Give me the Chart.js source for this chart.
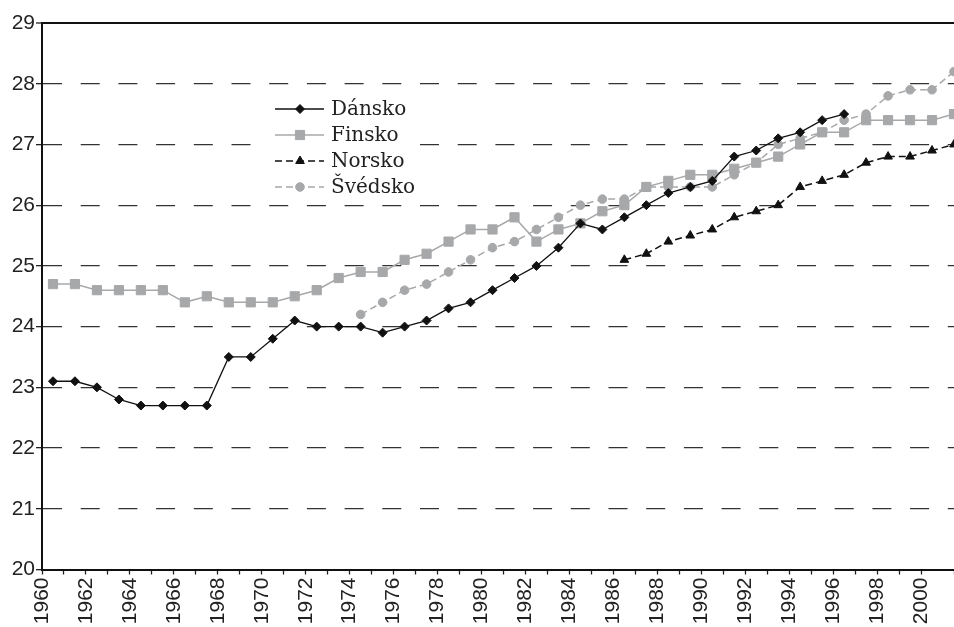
<!DOCTYPE html>
<html>
<head>
<meta charset="utf-8">
<script src="https://cdn.jsdelivr.net/npm/chart.js@4.4.1/dist/chart.umd.min.js"></script>
<style>
  html, body { margin: 0; padding: 0; background: #fff; }
</style>
</head>
<body>
<canvas id="chart" width="954" height="627"></canvas>
<script>
const years = [];
for (let y = 1960; y <= 2001; y++) years.push(y);

const dansko = [23.1, 23.1, 23.0, 22.8, 22.7, 22.7, 22.7, 22.7, 23.5, 23.5,
  23.8, 24.1, 24.0, 24.0, 24.0, 23.9, 24.0, 24.1, 24.3, 24.4,
  24.6, 24.8, 25.0, 25.3, 25.7, 25.6, 25.8, 26.0, 26.2, 26.3,
  26.4, 26.8, 26.9, 27.1, 27.2, 27.4, 27.5, null, null, null,
  null, null];
const finsko = [24.7, 24.7, 24.6, 24.6, 24.6, 24.6, 24.4, 24.5, 24.4, 24.4,
  24.4, 24.5, 24.6, 24.8, 24.9, 24.9, 25.1, 25.2, 25.4, 25.6,
  25.6, 25.8, 25.4, 25.6, 25.7, 25.9, 26.0, 26.3, 26.4, 26.5,
  26.5, 26.6, 26.7, 26.8, 27.0, 27.2, 27.2, 27.4, 27.4, 27.4,
  27.4, 27.5];
const norsko = [null, null, null, null, null, null, null, null, null, null,
  null, null, null, null, null, null, null, null, null, null,
  null, null, null, null, null, null, 25.1, 25.2, 25.4, 25.5,
  25.6, 25.8, 25.9, 26.0, 26.3, 26.4, 26.5, 26.7, 26.8, 26.8,
  26.9, 27.0];
const svedsko = [null, null, null, null, null, null, null, null, null, null,
  null, null, null, null, 24.2, 24.4, 24.6, 24.7, 24.9, 25.1,
  25.3, 25.4, 25.6, 25.8, 26.0, 26.1, 26.1, 26.3, 26.3, 26.3,
  26.3, 26.5, 26.7, 27.0, 27.1, 27.2, 27.4, 27.5, 27.8, 27.9,
  27.9, 28.2];

const gray = '#a7a8aa';
const axisFont = { family: '"Liberation Sans", Arial, sans-serif', size: 21 };

// legend drawn inside the plot, line + marker like the original
const insideLegend = {
  id: 'insideLegend',
  afterDatasetsDraw(chart) {
    const ctx = chart.ctx;
    ctx.save();
    ctx.fillStyle = '#fff';
    ctx.fillRect(258, 92, 160, 108);
    chart.data.datasets.forEach((ds, i) => {
      const y = 109 + i * 26;
      ctx.strokeStyle = ds.borderColor;
      ctx.lineWidth = ds.borderWidth;
      ctx.setLineDash(ds.borderDash || []);
      ctx.beginPath();
      ctx.moveTo(275, y);
      ctx.lineTo(324, y);
      ctx.stroke();
      ctx.setLineDash([]);
      ctx.fillStyle = ds.pointBackgroundColor;
      ctx.strokeStyle = ds.pointBorderColor;
      ctx.lineWidth = ds.pointBorderWidth;
      Chart.helpers.drawPoint(ctx, {
        pointStyle: ds.pointStyle, radius: ds.pointRadius,
        borderWidth: ds.pointBorderWidth, rotation: 0
      }, 300, y);
      ctx.fillStyle = '#222';
      ctx.font = '20px "DejaVu Serif", serif';
      ctx.textBaseline = 'middle';
      ctx.textAlign = 'left';
      ctx.fillText(ds.label, 331, y + 1);
    });
    ctx.restore();
  }
};

const noSidePadding = (s) => { s.paddingRight = 0; s.paddingLeft = 0; };

new Chart(document.getElementById('chart'), {
  type: 'line',
  data: {
    labels: years,
    datasets: [
      {
        label: 'Dánsko', data: dansko,
        borderColor: '#111', borderWidth: 1.3,
        pointStyle: 'rectRot', pointRadius: 4.5, pointBorderWidth: 1,
        pointBackgroundColor: '#111', pointBorderColor: '#111'
      },
      {
        label: 'Finsko', data: finsko,
        borderColor: gray, borderWidth: 1.5,
        pointStyle: 'rect', pointRadius: 6.5, pointBorderWidth: 1,
        pointBackgroundColor: gray, pointBorderColor: gray
      },
      {
        label: 'Norsko', data: norsko,
        borderColor: '#111', borderWidth: 1.5, borderDash: [7, 4],
        pointStyle: 'triangle', pointRadius: 5, pointBorderWidth: 1,
        pointBackgroundColor: '#111', pointBorderColor: '#111'
      },
      {
        label: 'Švédsko', data: svedsko,
        borderColor: gray, borderWidth: 1.5, borderDash: [7, 4],
        pointStyle: 'circle', pointRadius: 4.3, pointBorderWidth: 1,
        pointBackgroundColor: gray, pointBorderColor: gray
      }
    ]
  },
  options: {
    responsive: false,
    animation: false,
    layout: { autoPadding: false, padding: { top: 23, right: 0, left: 0, bottom: 0 } },
    plugins: { legend: { display: false }, tooltip: { enabled: false } },
    scales: {
      x: {
        type: 'linear', display: false,
        min: 1959.5, max: 2001,
        ticks: { display: false },
        afterFit: noSidePadding
      },
      xYears: {
        type: 'linear', position: 'bottom',
        min: 1960, max: 2001.5,
        afterFit: (s) => { s.height = 57.5; noSidePadding(s); },
        grid: { drawOnChartArea: false, drawTicks: true, tickLength: 5, tickColor: '#222', tickWidth: 1.3 },
        border: { color: '#111', width: 2 },
        ticks: {
          stepSize: 1, autoSkip: false, maxRotation: 90, minRotation: 90,
          padding: 3, color: '#222', font: axisFont,
          callback: (v) => (Number.isInteger(v) && v % 2 === 0) ? String(v) : ''
        }
      },
      y: {
        min: 20, max: 29,
        afterFit: (s) => { s.width = 42; },
        grid: {
          color: (c) => c.tick && c.tick.value === 29 ? '#111' : '#333',
          lineWidth: (c) => c.tick && c.tick.value === 29 ? 2 : 1.3,
          tickLength: 6, tickColor: '#222', tickWidth: 1.3
        },
        border: {
          color: '#111', width: 2,
          dash: (c) => c.tick && c.tick.value === 29 ? [] : [19, 18.7]
        },
        ticks: { stepSize: 1, padding: 1, color: '#222', font: axisFont }
      }
    }
  },
  plugins: [insideLegend]
});
</script>
</body>
</html>
